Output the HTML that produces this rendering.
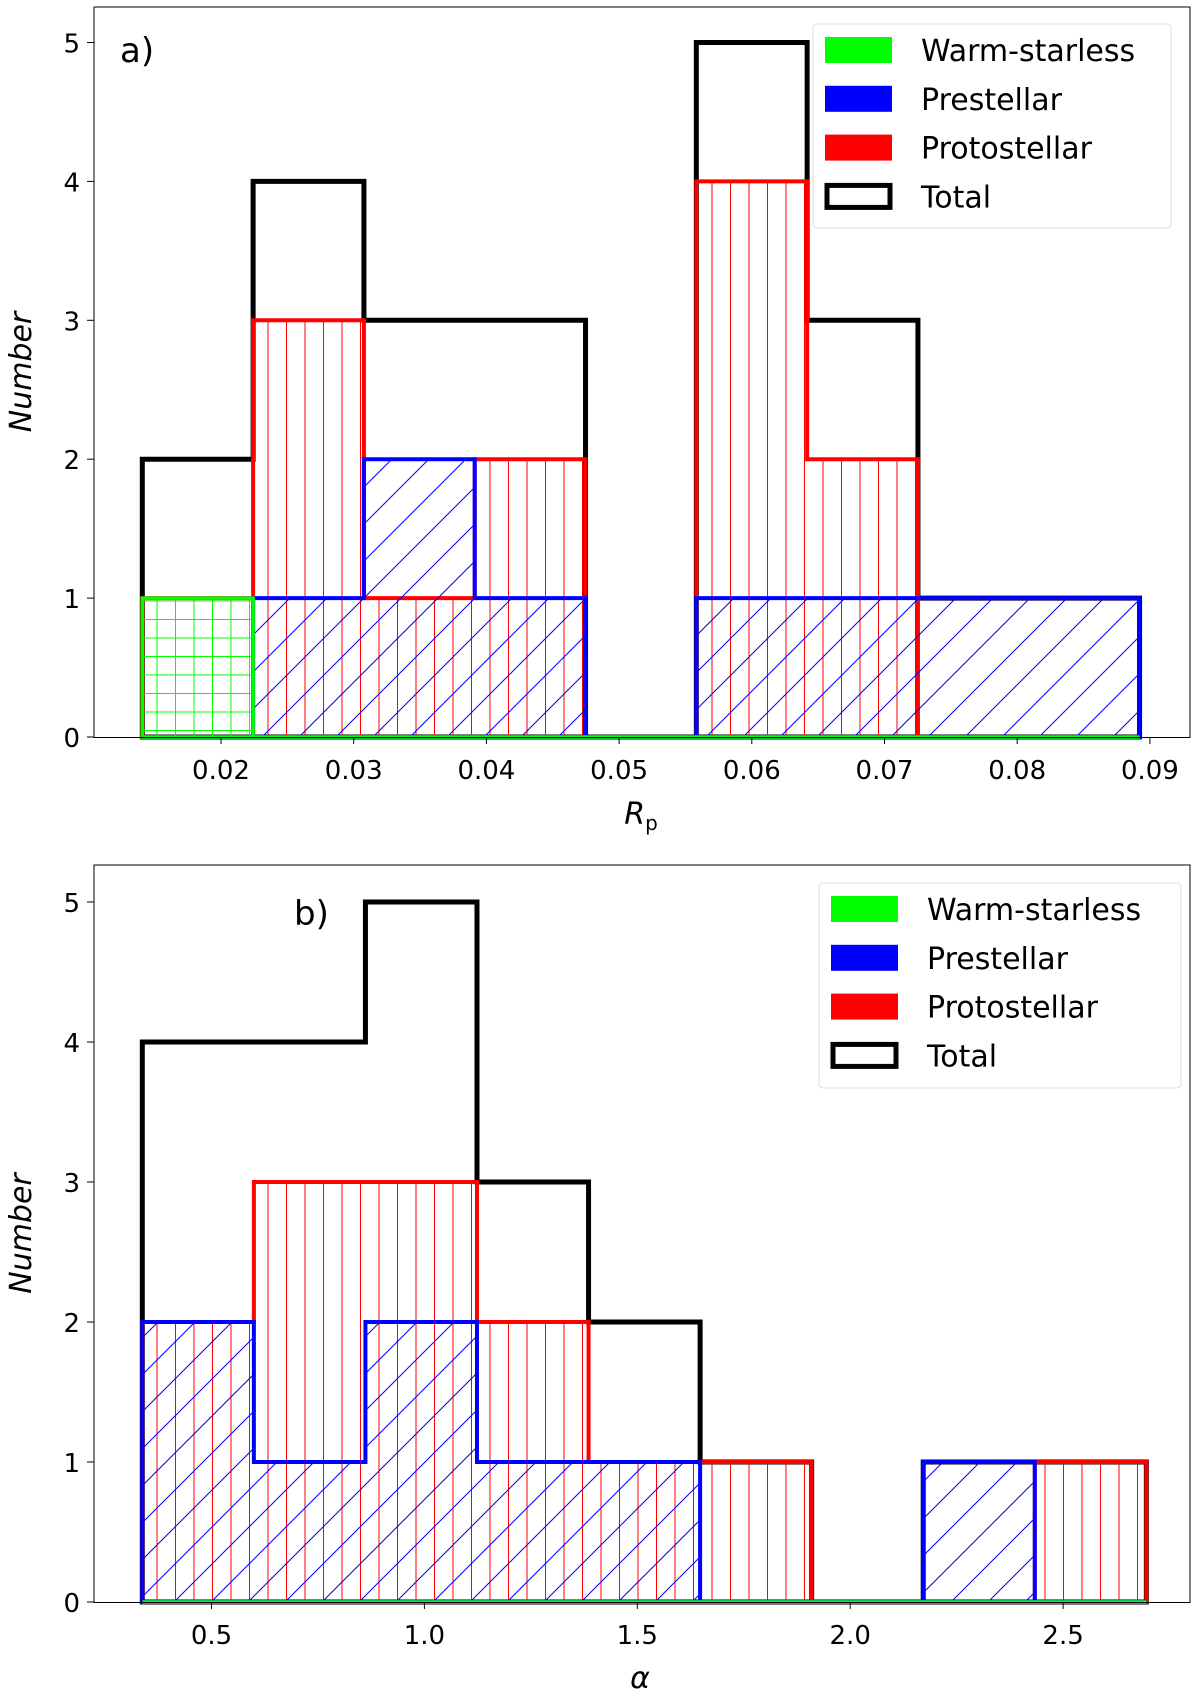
<!DOCTYPE html>
<html><head><meta charset="utf-8"><style>
html,body{margin:0;padding:0;background:#fff;}
svg{display:block;font-family:"DejaVu Sans","Liberation Sans",sans-serif;}
</style></head><body>
<svg id="chart" width="1200" height="1695" viewBox="0 0 1200 1695" xmlns="http://www.w3.org/2000/svg">
<defs>
<pattern id="hRed" patternUnits="userSpaceOnUse" width="18.5" height="20"><line x1="9" y1="0" x2="9" y2="20" stroke="#f00" stroke-width="1"/></pattern>
<pattern id="hBlue" patternUnits="userSpaceOnUse" width="37" height="37"><path d="M0,37 L37,0 M-10,10 L10,-10 M27,47 L47,27" stroke="#00f" stroke-width="1"/></pattern>
<pattern id="hGreen" patternUnits="userSpaceOnUse" width="18.5" height="18.5"><path d="M9,0 V18.5 M0,9 H18.5" stroke="#0f0" stroke-width="1"/></pattern>
</defs>
<g id="root"></g>
</svg>
<script>
// Panel a data (R_p)
const aEdgeStart = 0.01407;
const aBinWidth = 0.00835;
const aWarm = [1,0,0,0,0,0,0,0,0];
const aPre = [0,1,2,1,0,1,1,1,1];
const aProto = [1,3,1,2,0,4,2,0,0];
const aTotal = [2,4,3,3,0,5,3,1,1];
const aXTicks = [0.02,0.03,0.04,0.05,0.06,0.07,0.08,0.09];
const aXTickLabels = ["0.02","0.03","0.04","0.05","0.06","0.07","0.08","0.09"];
// Panel b data (alpha)
const bEdgeStart = 0.3375;
const bBinWidth = 0.262;
const bWarm = [0,0,0,0,0,0,0,0,0];
const bPre = [2,1,2,1,1,0,0,1,0];
const bProto = [2,3,3,2,1,1,0,0,1];
const bTotal = [4,4,5,3,2,1,0,1,1];
const bXTicks = [0.5,1.0,1.5,2.0,2.5];
const bXTickLabels = ["0.5","1.0","1.5","2.0","2.5"];
const yTicks = [0,1,2,3,4,5];
const legendLabels = ["Warm-starless","Prestellar","Protostellar","Total"];

const NS="http://www.w3.org/2000/svg";
const root=document.getElementById('root');
function mk(tag,attrs,parent){const e=document.createElementNS(NS,tag);for(const k in attrs)e.setAttribute(k,attrs[k]);(parent||root).appendChild(e);return e;}

function panel(cfg){
  const g=mk('g',{});
  
  
  const xs=v=>cfg.px0+(v-cfg.v0)*cfg.pxPer;
  const ys=v=>cfg.y0-v*cfg.yPer;
  function step(counts,stroke,fill,sw,nm){
    let d='M'+xs(cfg.start)+','+ys(0);
    counts.forEach((c,i)=>{const x0=xs(cfg.start+i*cfg.w),x1=xs(cfg.start+(i+1)*cfg.w);d+=' L'+x0+','+ys(c)+' L'+x1+','+ys(c);});
    d+=' L'+xs(cfg.start+counts.length*cfg.w)+','+ys(0)+' Z';
    const p=mk('path',{d:d,fill:fill,stroke:stroke,'stroke-width':sw,'stroke-linejoin':'miter'},g);
    
    
  }
  step(cfg.total,'#000','none',5,'total-histogram');
  step(cfg.proto,'#f00','url(#hRed)',4,'protostellar-histogram');
  step(cfg.pre,'#00f','url(#hBlue)',4,'prestellar-histogram');
  step(cfg.warm,'#0f0','url(#hGreen)',3.5,'warm-starless-histogram');
  const fr=mk('rect',{x:cfg.L,y:cfg.T,width:cfg.R-cfg.L,height:cfg.y0-cfg.T+0.5,fill:'none',stroke:'#000','stroke-width':1},g);
  
  
  cfg.xt.forEach((v,i)=>{
    const x=xs(v);
    mk('line',{x1:x,y1:cfg.y0,x2:x,y2:cfg.y0+7,stroke:'#000','stroke-width':1},g);
    const t=mk('text',{x:x,y:cfg.y0+42,'text-anchor':'middle','font-size':26},g);
    t.textContent=cfg.xl[i];
    
    
  });
  yTicks.forEach(v=>{
    const y=ys(v);
    mk('line',{x1:cfg.L-7,y1:y,x2:cfg.L,y2:y,stroke:'#000','stroke-width':1},g);
    const t=mk('text',{x:cfg.L-14,y:y+10,'text-anchor':'end','font-size':26},g);
    t.textContent=String(v);
    
    
  });
  const yl=mk('text',{x:0,y:0,transform:'translate(31,'+((cfg.T+cfg.y0)/2)+') rotate(-90)','text-anchor':'middle','font-size':30,'font-style':'italic'},g);
  yl.textContent='Number';
  
  
  const xl=mk('text',{x:cfg.xlx,y:cfg.xly,'text-anchor':'middle','font-size':30,'font-style':'italic'},g);
  xl.innerHTML=cfg.xlabel;
  
  
  const pl=mk('text',{x:cfg.plx,y:cfg.ply,'font-size':34},g);
  pl.textContent=cfg.plabel;
  
  
  const lg=mk('g',{},g);
  
  
  mk('rect',{x:cfg.lgx,y:cfg.lgy,width:cfg.lgw,height:cfg.lgh,rx:4,fill:'#fff','fill-opacity':0.8,stroke:'#ddd','stroke-width':1},lg);
  const cols=['#0f0','#00f','#f00',null];
  legendLabels.forEach((lab,i)=>{
    const cy=cfg.lgy+26+i*48.8;
    const r=cols[i]?mk('rect',{x:cfg.lgx+12,y:cy-13,width:67,height:26,fill:cols[i]},lg):mk('rect',{x:cfg.lgx+14,y:cy-11,width:63,height:22,fill:'none',stroke:'#000','stroke-width':5},lg);
    
    
    const t=mk('text',{x:cfg.lgx+108,y:cy+11,'font-size':30},lg);
    t.textContent=lab;
    
    
  });
}
panel({name:'panel-a',L:94,R:1190,T:7,y0:737,yPer:138.9,px0:221,v0:0.02,pxPer:13270,start:aEdgeStart,w:aBinWidth,
  warm:aWarm,pre:aPre,proto:aProto,total:aTotal,xt:aXTicks,xl:aXTickLabels,
  xlabel:'R<tspan font-size="20" font-style="normal" dy="6">p</tspan>',xlx:641,xly:824,plabel:'a)',plx:120,ply:62,
  lgx:813,lgy:24,lgw:358,lgh:204});
panel({name:'panel-b',L:94,R:1190,T:865,y0:1602,yPer:140,px0:211.5,v0:0.5,pxPer:425.8,start:bEdgeStart,w:bBinWidth,
  warm:bWarm,pre:bPre,proto:bProto,total:bTotal,xt:bXTicks,xl:bXTickLabels,
  xlabel:'α',xlx:640,xly:1688,plabel:'b)',plx:294,ply:925,
  lgx:819,lgy:883,lgw:362,lgh:205});
</script>
</body></html>
